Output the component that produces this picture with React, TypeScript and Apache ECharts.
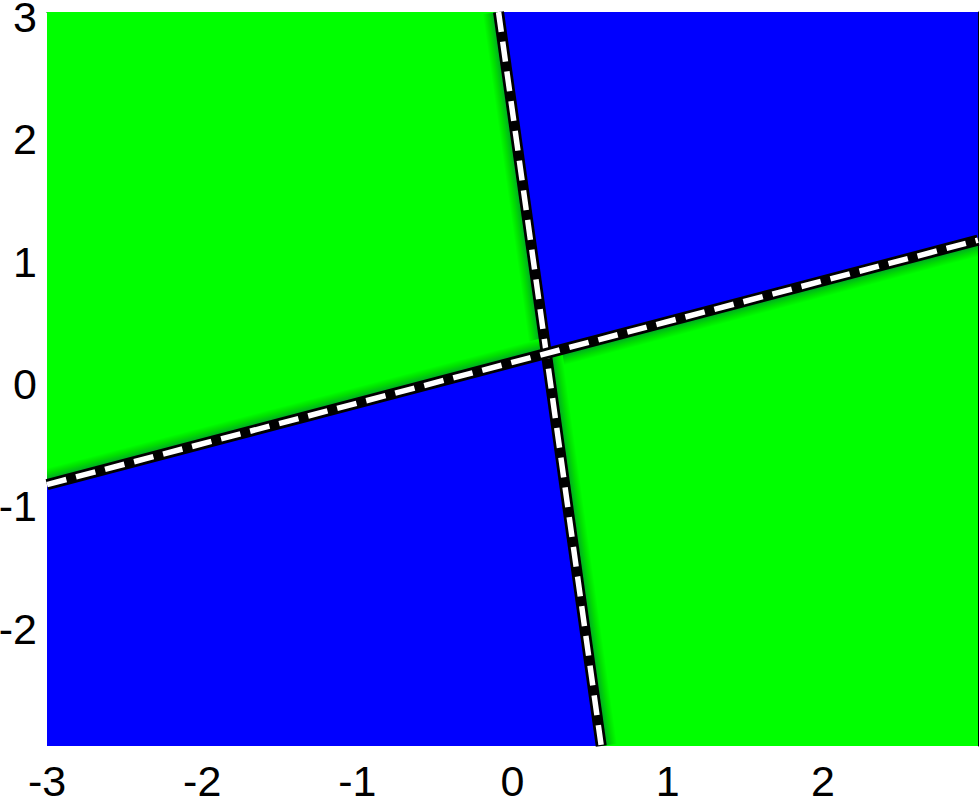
import React, { useEffect, useRef } from "react";
import * as echarts from "echarts";

// Axis ranges and ticks
const X_RANGE = [-3, 3];
const Y_RANGE = [-3, 3];
const TICK_STEP = 1;

// Decision boundaries (data coordinates)
const boundarySteep: number[][] = [
  [-0.09, 3],
  [0.572, -3],
];
const boundaryShallow: number[][] = [
  [-3, -0.863],
  [3, 1.135],
];

// Class colours
const CLASS_COLORS: Record<string, string> = {
  green: "#00ff00",
  blue: "#0000ff",
};

function intersect(a: number[][], b: number[][]): number[] {
  const [x1, y1] = a[0];
  const [x2, y2] = a[1];
  const [x3, y3] = b[0];
  const [x4, y4] = b[1];
  const d = (x1 - x2) * (y3 - y4) - (y1 - y2) * (x3 - x4);
  const t = ((x1 - x3) * (y3 - y4) - (y1 - y3) * (x3 - x4)) / d;
  return [x1 + t * (x2 - x1), y1 + t * (y2 - y1)];
}

const P = intersect(boundarySteep, boundaryShallow);
const [xMin, xMax] = X_RANGE;
const [yMin, yMax] = Y_RANGE;

// Class regions; `edges` are the polygon edges lying on a decision boundary
const regions: { cls: string; poly: number[][]; edges: number[][][] }[] = [
  {
    cls: "green",
    poly: [[xMin, yMax], boundarySteep[0], P, boundaryShallow[0]],
    edges: [[boundarySteep[0], P], [P, boundaryShallow[0]]],
  },
  {
    cls: "blue",
    poly: [boundarySteep[0], [xMax, yMax], boundaryShallow[1], P],
    edges: [],
  },
  {
    cls: "green",
    poly: [P, boundaryShallow[1], [xMax, yMin], boundarySteep[1]],
    edges: [[P, boundaryShallow[1]], [boundarySteep[1], P]],
  },
  {
    cls: "blue",
    poly: [boundaryShallow[0], P, boundarySteep[1], [xMin, yMin]],
    edges: [],
  },
];

const FONT = "'Liberation Sans', Arial, Helvetica, sans-serif";
const EDGE_SHADE = 16;

export default function App() {
  const ref = useRef<HTMLDivElement>(null);
  useEffect(() => {
    if (!ref.current) return;
    const chart = echarts.init(ref.current, undefined, { renderer: "svg" });
    const hiddenAxis = {
      axisTick: { show: false },
      splitLine: { show: false },
    };
    chart.setOption({
      animation: false,
      backgroundColor: "#ffffff",
      grid: {
        left: 47,
        right: 2,
        top: 12,
        bottom: 53,
        containLabel: false,
        outerBoundsMode: "none",
      },
      xAxis: [
        {
          type: "value",
          min: xMin,
          max: xMax,
          interval: TICK_STEP,
          position: "bottom",
          axisLine: { show: false },
          ...hiddenAxis,
          axisLabel: {
            showMaxLabel: false,
            showMinLabel: true,
            fontSize: 43,
            lineHeight: 32,
            fontFamily: FONT,
            color: "#000",
            margin: 19,
          },
        },
        {
          type: "value",
          min: xMin,
          max: xMax,
          position: "top",
          axisLine: { show: true, onZero: false, lineStyle: { color: "#000", width: 1 } },
          axisLabel: { show: false },
          ...hiddenAxis,
        },
      ],
      yAxis: [
        {
          type: "value",
          min: yMin,
          max: yMax,
          interval: TICK_STEP,
          position: "left",
          axisLine: { show: false },
          ...hiddenAxis,
          axisLabel: {
            showMinLabel: false,
            showMaxLabel: true,
            fontSize: 43,
            lineHeight: 10,
            verticalAlign: "top",
            fontFamily: FONT,
            color: "#000",
            margin: 10,
          },
        },
        {
          type: "value",
          min: yMin,
          max: yMax,
          position: "right",
          axisLine: { show: true, onZero: false, lineStyle: { color: "#000", width: 1 } },
          axisLabel: { show: false },
          ...hiddenAxis,
        },
      ],
      series: [
        {
          type: "custom",
          xAxisIndex: 0,
          yAxisIndex: 0,
          silent: true,
          clip: true,
          data: regions.map((_, i) => [i]),
          renderItem: (params: any, api: any) => {
            const r = regions[params.dataIndex];
            const pts = r.poly.map((p) => api.coord(p));
            const cx = pts.reduce((s: number, p: number[]) => s + p[0], 0) / pts.length;
            const cy = pts.reduce((s: number, p: number[]) => s + p[1], 0) / pts.length;
            const children: any[] = [
              {
                type: "polygon",
                shape: { points: pts },
                style: { fill: CLASS_COLORS[r.cls], stroke: CLASS_COLORS[r.cls], lineWidth: 0.5 },
              },
            ];
            r.edges.forEach((e) => {
              const a = api.coord(e[0]);
              const b = api.coord(e[1]);
              const dx = b[0] - a[0];
              const dy = b[1] - a[1];
              const len = Math.hypot(dx, dy);
              let nx = -dy / len;
              let ny = dx / len;
              const mx = (a[0] + b[0]) / 2;
              const my = (a[1] + b[1]) / 2;
              if ((cx - mx) * nx + (cy - my) * ny < 0) {
                nx = -nx;
                ny = -ny;
              }
              const w = EDGE_SHADE;
              children.push({
                type: "polygon",
                shape: {
                  points: [a, b, [b[0] + nx * w, b[1] + ny * w], [a[0] + nx * w, a[1] + ny * w]],
                },
                style: {
                  fill: new echarts.graphic.LinearGradient(
                    mx,
                    my,
                    mx + nx * w,
                    my + ny * w,
                    [
                      { offset: 0, color: "#008a40" },
                      { offset: 0.4, color: "#00b81a" },
                      { offset: 0.7, color: "#00e000" },
                      { offset: 1, color: "#00ff00" },
                    ],
                    true
                  ),
                },
              });
            });
            return { type: "group", children };
          },
        },
        ...[boundarySteep, boundaryShallow].flatMap((b) => [
          {
            type: "line",
            xAxisIndex: 0,
            yAxisIndex: 0,
            data: b,
            symbol: "none",
            silent: true,
            lineStyle: { color: "#000", width: 11, cap: "butt" },
          },
          {
            type: "line",
            xAxisIndex: 0,
            yAxisIndex: 0,
            data: b,
            symbol: "none",
            silent: true,
            lineStyle: { color: "#fff", width: 5.5, type: [20, 10], cap: "butt" },
          },
        ]),
      ],
    });
    return () => chart.dispose();
  }, []);
  return (
    <div
      ref={ref}
      style={{ position: "absolute", left: 0, top: 0, width: 980, height: 799 }}
    />
  );
}
